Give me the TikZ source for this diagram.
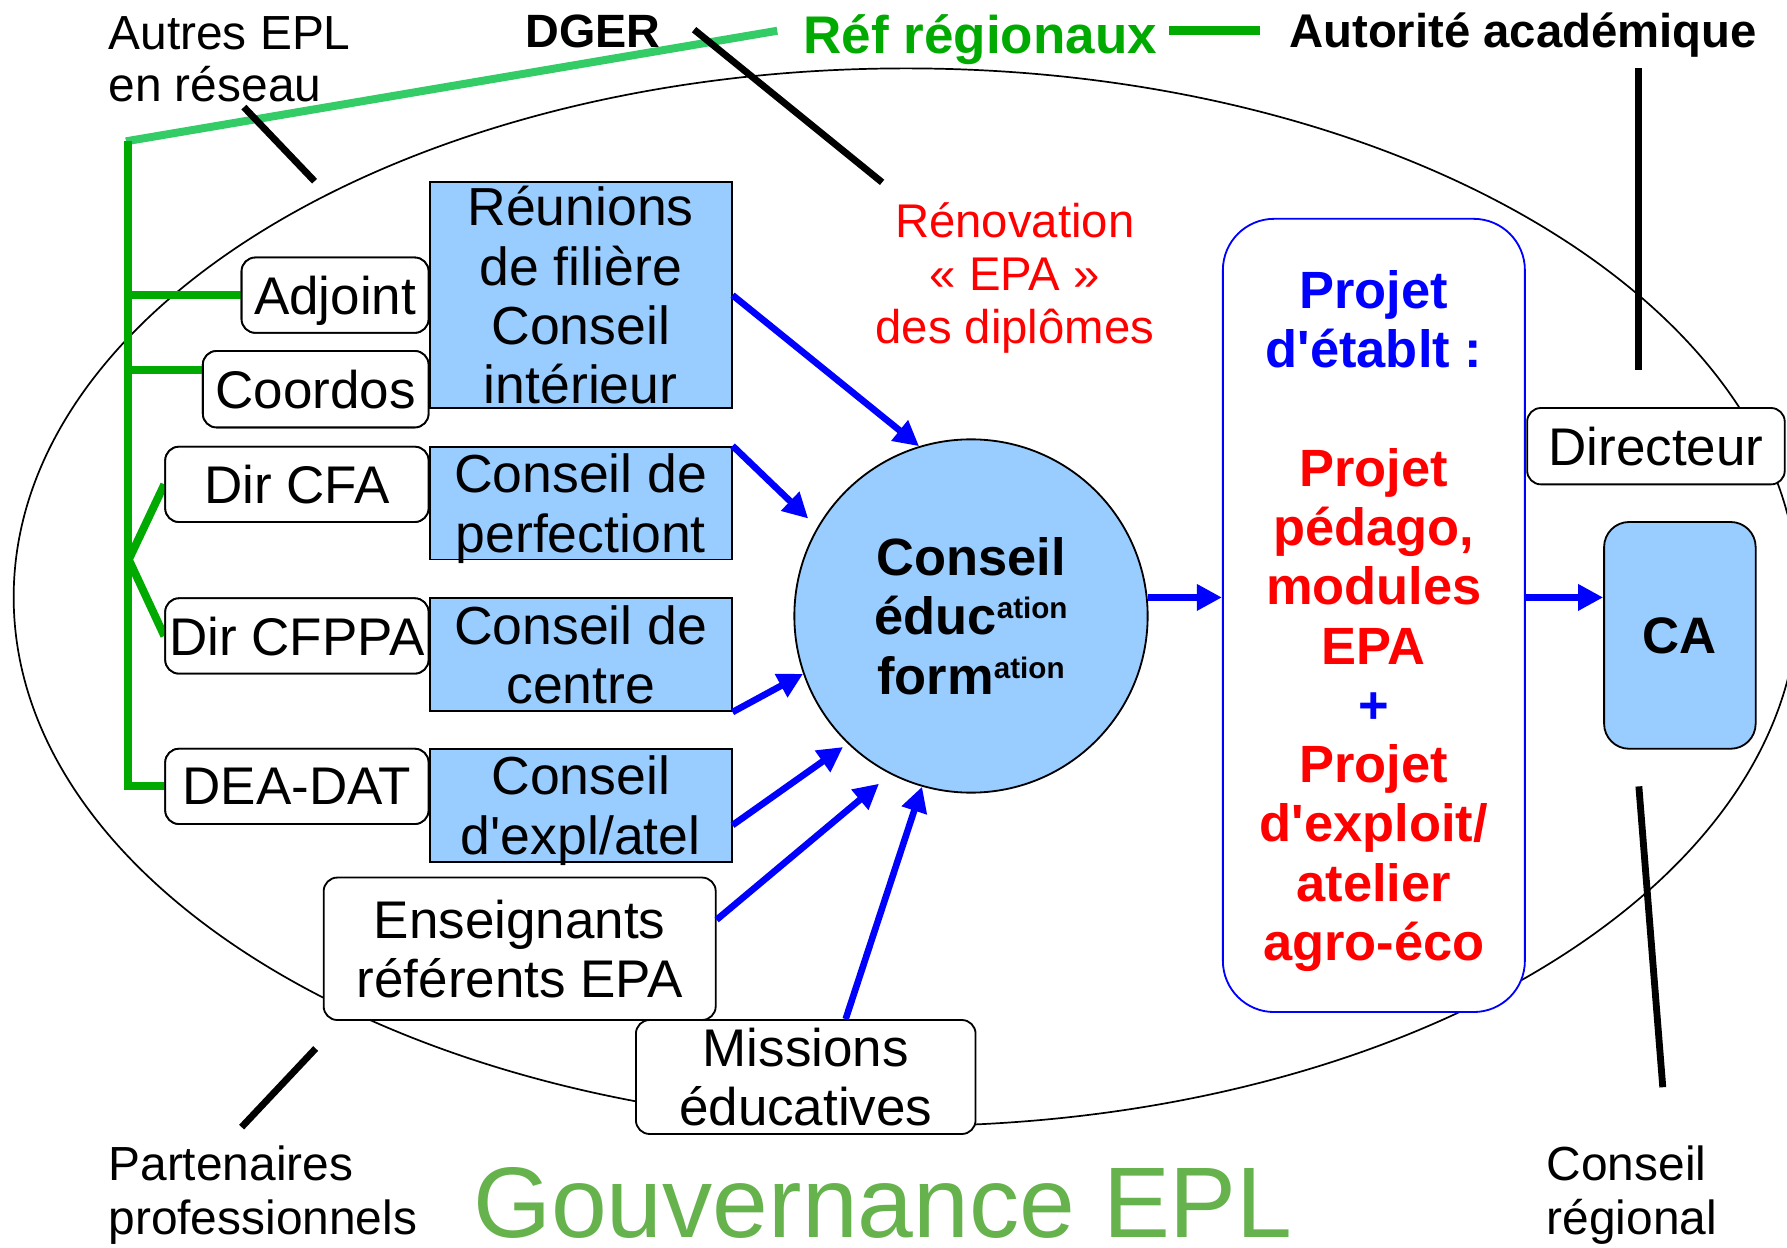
\documentclass[tikz,border=0pt]{standalone}
\usepackage{fontspec}
\setmainfont{Liberation Sans}[Ligatures=TeXOff]
\usetikzlibrary{arrows.meta}
\definecolor{dkgreen}{HTML}{00AA00}
\definecolor{ltgreen}{HTML}{33CC66}
\definecolor{govgreen}{HTML}{66B24D}
\definecolor{cblue}{HTML}{99CCFF}
\newcommand\lns[2][l]{\begin{tabular}[t]{@{}#1@{}}#2\end{tabular}}
\newcommand\atsup{\raisebox{14pt}{\fontsize{26}{26}\selectfont ation}}
\begin{document}
\begin{tikzpicture}[x=1pt,y=-1pt,
  wbox/.style={draw=black,line width=1.6pt,fill=white,rounded corners=12pt,inner sep=0pt,align=center,font=\fontsize{46.5}{52}\selectfont},
  bbox/.style={draw=black,line width=1.6pt,fill=cblue,inner sep=0pt,align=center,font=\fontsize{47}{52}\selectfont},
  arr/.style={draw=blue,line width=5.8pt,-{Triangle[length=22pt,width=22pt]}},
  blk/.style={draw=black,line width=6pt},
  dg/.style={draw=dkgreen,line width=7pt},
  lbl/.style={inner sep=0pt,anchor=base west,font=\fontsize{42}{46}\selectfont}]
\useasboundingbox (0,0) rectangle (1568,1095);
% big ellipse
\draw[line width=1.5pt] (795,524) ellipse [x radius=783pt, y radius=464pt];
% coordinates for free line ends
\coordinate (gA) at (110.5,124);
\coordinate (gB) at (682,27);
\coordinate (gTop) at (112,124);
\coordinate (gBot) at (112,690);
\coordinate (gAdj) at (112,259);
\coordinate (gCrd) at (112,325);
\coordinate (gV) at (113,491);
\coordinate (gD1) at (1026,27);
\coordinate (gD2) at (1106,27);
\coordinate (b1a) at (214,94);   \coordinate (b1b) at (276,159);
\coordinate (b2a) at (609,26);   \coordinate (b2b) at (774,160);
\coordinate (b3a) at (1438,60);  \coordinate (b3b) at (1438,325);
\coordinate (b4a) at (1438,690); \coordinate (b4b) at (1459,954);
\coordinate (b5a) at (277,920);  \coordinate (b5b) at (212,989);
% green lines
\draw[draw=ltgreen,line width=7pt] (gA) -- (gB);
\draw[dg,line width=8pt] (gD1) -- (gD2);
% black lines
\draw[blk] (b1a) -- (b1b);
\draw[blk] (b2a) -- (b2b);
\draw[blk] (b3a) -- (b3b);
\draw[blk] (b4a) -- (b4b);
\draw[blk] (b5a) -- (b5b);
% left boxes
\node[wbox,minimum width=164pt,minimum height=66pt,text depth=0pt] (adj) at (294,259) {Adjoint};
\node[wbox,minimum width=198pt,minimum height=67pt,text depth=0pt] (crd) at (277,341.5) {Coordos};
\node[wbox,minimum width=231pt,minimum height=66pt,text depth=0pt] (cfa) at (260.5,425) {Dir CFA};
\node[wbox,minimum width=231pt,minimum height=66pt,text depth=0pt] (cfppa) at (260.5,558) {Dir CFPPA};
\node[wbox,minimum width=231pt,minimum height=66pt,text depth=0pt] (dea) at (260.5,690) {DEA-DAT};
% green tree
\draw[dg,line join=miter] (gTop) -- (gBot) -- (dea.west);
\draw[dg] (gAdj) -- (adj.west);
\draw[dg] (gCrd) -- (gCrd -| crd.west);
\draw[dg] (cfa.west) -- (gV) -- (cfppa.west);
% redraw boxes over green ends
\node[wbox,minimum width=164pt,minimum height=66pt,text depth=0pt] at (294,259) {Adjoint};
\node[wbox,minimum width=198pt,minimum height=67pt,text depth=0pt] at (277,341.5) {Coordos};
\node[wbox,minimum width=231pt,minimum height=66pt,text depth=0pt] at (260.5,425) {Dir CFA};
\node[wbox,minimum width=231pt,minimum height=66pt,text depth=0pt] at (260.5,558) {Dir CFPPA};
\node[wbox,minimum width=231pt,minimum height=66pt,text depth=0pt] at (260.5,690) {DEA-DAT};
\node[bbox,minimum width=265pt,minimum height=198pt] (reun) at (509.5,259) {Réunions\\de filière\\Conseil\\intérieur};
\node[bbox,minimum width=265pt,minimum height=99pt] (perf) at (509.5,441.5) {Conseil de\\\smash{perfectiont}};
\node[bbox,minimum width=265pt,minimum height=99pt] (ctr) at (509.5,574.5) {Conseil de\\centre};
\node[bbox,minimum width=265pt,minimum height=99pt] (expl) at (509.5,706.5) {Conseil\\\smash{d'expl/atel}};
\node[wbox,minimum width=344pt,minimum height=125pt] (ens) at (456,832.5) {Enseignants\\référents EPA};
\node[wbox,minimum width=298pt,minimum height=100pt] (miss) at (707,945) {Missions\\éducatives};
\node[circle,draw=black,line width=1.6pt,fill=cblue,minimum size=310pt,inner sep=0pt,align=center,font=\bfseries\fontsize{46}{52}\selectfont] (cef) at (852,540.5) {Conseil\\éduc\atsup\\form\atsup};
\node[draw=blue,line width=1.6pt,fill=white,rounded corners=45pt,minimum width=265pt,minimum height=696pt,inner sep=0pt,align=center,text=red,font=\bfseries\fontsize{46}{52}\selectfont] (prj) at (1205.5,540) {\textcolor{blue}{Projet}\\\textcolor{blue}{d'établt :}\\[52pt]Projet\\pédago,\\modules\\EPA\\\textcolor{blue}{+}\\Projet\\d'exploit/\\atelier\\\smash{agro-éco}};
\node[wbox,minimum width=226pt,minimum height=67pt,text depth=0pt] (dir) at (1453,391.5) {Directeur};
\node[bbox,rounded corners=22pt,minimum width=133pt,minimum height=199pt,text depth=0pt,font=\bfseries\fontsize{45}{52}\selectfont] (ca) at (1474,557.5) {CA};
% arrows
\draw[arr] (reun.east) -- (cef.107);
\draw[arr,shorten >=11pt] (perf.north east) -- (cef.150);
\draw[arr] (ctr.south east) -- (cef.199);
\draw[arr,shorten >=5pt] ([yshift=-17.5pt]expl.east) -- (cef.226);
\draw[arr,shorten >=13pt] ([yshift=25.5pt]ens.east) -- (cef.243);
\draw[arr] ([xshift=35pt]miss.north) -- (cef.254);
\draw[arr] (cef.6) -- (cef.6 -| prj.west);
\draw[arr] (prj.east |- cef.6) -- (ca.west |- cef.6);
% labels
\node[lbl] (autres) at (95,43) {\lns{Autres EPL\\en réseau}};
\node[lbl,font=\bfseries\fontsize{41}{46}\selectfont] (dger) at (461,42) {DGER};
\node[lbl,text=dkgreen,font=\bfseries\fontsize{46.5}{50}\selectfont] (ref) at (705,47) {Réf régionaux};
\node[lbl,font=\bfseries\fontsize{41.5}{46}\selectfont] (auto) at (1131,42) {Autorité académique};
\node[inner sep=0pt,anchor=base,text=red,font=\fontsize{41.5}{46.5}\selectfont] (reno) at (890.5,208) {\lns[c]{Rénovation\\« EPA »\\des diplômes}};
\node[lbl,font=\fontsize{42}{47}\selectfont] (part) at (95,1036) {\lns{Partenaires\\professionnels}};
\node[lbl,font=\fontsize{42}{47}\selectfont] (creg) at (1357,1036) {\lns{Conseil\\régional}};
\node[lbl,text=govgreen,text depth=0pt,font=\fontsize{88}{90}\selectfont] (gov) at (415,1086) {Gouvernance EPL};
\end{tikzpicture}
\end{document}
